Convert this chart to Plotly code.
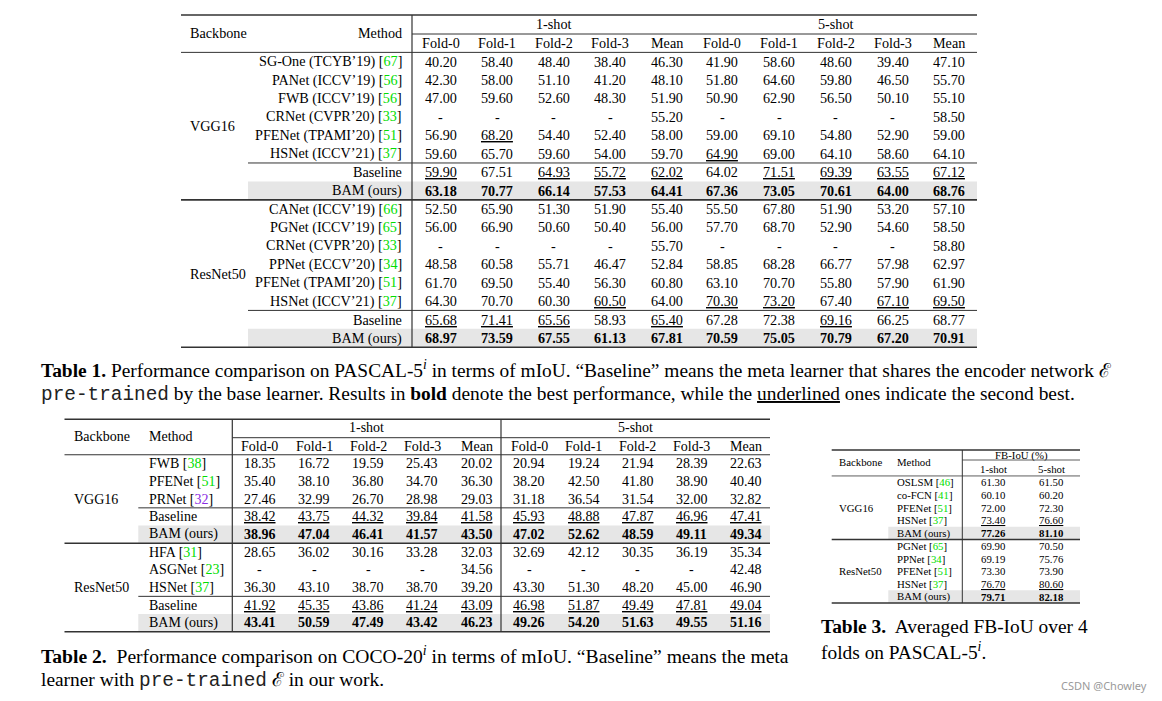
import plotly.graph_objects as go

FONT = "Liberation Serif"
MONO = "Liberation Mono"
GREEN = "#00dd00"
PURPLE = "#8a2be2"
RULE = "#333333"
GRAY = "#e6e6e6"

# ---------------- Table 1 data (PASCAL-5i, mIoU) ----------------
t1_groups = ["VGG16", "ResNet50"]
t1_vgg_methods = ["SG-One (TCYB’19)", "PANet (ICCV’19)", "FWB (ICCV’19)", "CRNet (CVPR’20)",
                  "PFENet (TPAMI’20)", "HSNet (ICCV’21)", "Baseline", "BAM (ours)"]
t1_vgg_refs = ["67", "56", "56", "33", "51", "37", None, None]
t1_vgg_1shot = [
    [40.20, 58.40, 48.40, 38.40, 46.30],
    [42.30, 58.00, 51.10, 41.20, 48.10],
    [47.00, 59.60, 52.60, 48.30, 51.90],
    [None, None, None, None, 55.20],
    [56.90, 68.20, 54.40, 52.40, 58.00],
    [59.60, 65.70, 59.60, 54.00, 59.70],
    [59.90, 67.51, 64.93, 55.72, 62.02],
    [63.18, 70.77, 66.14, 57.53, 64.41],
]
t1_vgg_5shot = [
    [41.90, 58.60, 48.60, 39.40, 47.10],
    [51.80, 64.60, 59.80, 46.50, 55.70],
    [50.90, 62.90, 56.50, 50.10, 55.10],
    [None, None, None, None, 58.50],
    [59.00, 69.10, 54.80, 52.90, 59.00],
    [64.90, 69.00, 64.10, 58.60, 64.10],
    [64.02, 71.51, 69.39, 63.55, 67.12],
    [67.36, 73.05, 70.61, 64.00, 68.76],
]
t1_res_methods = ["CANet (ICCV’19)", "PGNet (ICCV’19)", "CRNet (CVPR’20)", "PPNet (ECCV’20)",
                  "PFENet (TPAMI’20)", "HSNet (ICCV’21)", "Baseline", "BAM (ours)"]
t1_res_refs = ["66", "65", "33", "34", "51", "37", None, None]
t1_res_1shot = [
    [52.50, 65.90, 51.30, 51.90, 55.40],
    [56.00, 66.90, 50.60, 50.40, 56.00],
    [None, None, None, None, 55.70],
    [48.58, 60.58, 55.71, 46.47, 52.84],
    [61.70, 69.50, 55.40, 56.30, 60.80],
    [64.30, 70.70, 60.30, 60.50, 64.00],
    [65.68, 71.41, 65.56, 58.93, 65.40],
    [68.97, 73.59, 67.55, 61.13, 67.81],
]
t1_res_5shot = [
    [55.50, 67.80, 51.90, 53.20, 57.10],
    [57.70, 68.70, 52.90, 54.60, 58.50],
    [None, None, None, None, 58.80],
    [58.85, 68.28, 66.77, 57.98, 62.97],
    [63.10, 70.70, 55.80, 57.90, 61.90],
    [70.30, 73.20, 67.40, 67.10, 69.50],
    [67.28, 72.38, 69.16, 66.25, 68.77],
    [70.59, 75.05, 70.79, 67.20, 70.91],
]

# ---------------- Table 2 data (COCO-20i, mIoU) ----------------
t2_vgg_methods = ["FWB", "PFENet", "PRNet", "Baseline", "BAM (ours)"]
t2_vgg_refs = ["38", "51", "32", None, None]
t2_vgg_1shot = [
    [18.35, 16.72, 19.59, 25.43, 20.02],
    [35.40, 38.10, 36.80, 34.70, 36.30],
    [27.46, 32.99, 26.70, 28.98, 29.03],
    [38.42, 43.75, 44.32, 39.84, 41.58],
    [38.96, 47.04, 46.41, 41.57, 43.50],
]
t2_vgg_5shot = [
    [20.94, 19.24, 21.94, 28.39, 22.63],
    [38.20, 42.50, 41.80, 38.90, 40.40],
    [31.18, 36.54, 31.54, 32.00, 32.82],
    [45.93, 48.88, 47.87, 46.96, 47.41],
    [47.02, 52.62, 48.59, 49.11, 49.34],
]
t2_res_methods = ["HFA", "ASGNet", "HSNet", "Baseline", "BAM (ours)"]
t2_res_refs = ["31", "23", "37", None, None]
t2_res_1shot = [
    [28.65, 36.02, 30.16, 33.28, 32.03],
    [None, None, None, None, 34.56],
    [36.30, 43.10, 38.70, 38.70, 39.20],
    [41.92, 45.35, 43.86, 41.24, 43.09],
    [43.41, 50.59, 47.49, 43.42, 46.23],
]
t2_res_5shot = [
    [32.69, 42.12, 30.35, 36.19, 35.34],
    [None, None, None, None, 42.48],
    [43.30, 51.30, 48.20, 45.00, 46.90],
    [46.98, 51.87, 49.49, 47.81, 49.04],
    [49.26, 54.20, 51.63, 49.55, 51.16],
]

# ---------------- Table 3 data (FB-IoU) ----------------
t3_vgg_methods = ["OSLSM", "co-FCN", "PFENet", "HSNet", "BAM (ours)"]
t3_vgg_refs = ["46", "41", "51", "37", None]
t3_vgg_vals = [[61.30, 61.50], [60.10, 60.20], [72.00, 72.30], [73.40, 76.60], [77.26, 81.10]]
t3_res_methods = ["PGNet", "PPNet", "PFENet", "HSNet", "BAM (ours)"]
t3_res_refs = ["65", "34", "51", "37", None]
t3_res_vals = [[69.90, 70.50], [69.19, 75.76], [73.30, 73.90], [76.70, 80.60], [79.71, 82.18]]

fold_labels = ["Fold-0", "Fold-1", "Fold-2", "Fold-3", "Mean"]
shot_labels = ["1-shot", "5-shot"]

ann = []
shapes = []


def text(x, y, s, size, xanchor="center", family=FONT, color="black"):
    ann.append(dict(x=x, y=y, xref="x", yref="y", text=s, showarrow=False,
                    xanchor=xanchor, yanchor="middle", borderpad=0,
                    font=dict(family=family, size=size, color=color)))


def hline(x0, x1, y, w=1.0):
    shapes.append(dict(type="line", xref="x", yref="y", x0=x0, x1=x1, y0=y, y1=y,
                       line=dict(color=RULE, width=w), layer="above"))


def vline(x, y0, y1, w=1.0):
    shapes.append(dict(type="line", xref="x", yref="y", x0=x, x1=x, y0=y0, y1=y1,
                       line=dict(color=RULE, width=w), layer="above"))


def fill(x0, x1, y0, y1):
    shapes.append(dict(type="rect", xref="x", yref="y", x0=x0, x1=x1, y0=y0, y1=y1,
                       line=dict(width=0), fillcolor=GRAY, layer="below"))


def rank_marks(block):
    """Per-cell style: 'b' best, 'u' second best within the block column."""
    nrow, ncol = len(block), len(block[0])
    marks = [[None] * ncol for _ in range(nrow)]
    for c in range(ncol):
        vals = sorted({block[r][c] for r in range(nrow) if block[r][c] is not None}, reverse=True)
        for r in range(nrow):
            v = block[r][c]
            if v is None:
                continue
            if v == vals[0]:
                marks[r][c] = "b"
            elif len(vals) > 1 and v == vals[1]:
                marks[r][c] = "u"
    return marks


def fmt(v, m):
    if v is None:
        return "-"
    s = f"{v:.2f}"
    if m == "b":
        return f"<b>{s}</b>"
    if m == "u":
        return f"<u>{s}</u>"
    return s


def method_label(name, ref, color=GREEN):
    if ref is None:
        return name
    c = PURPLE if ref == "32" else color
    return f"{name} [<span style='color:{c}'>{ref}</span>]"


def mono(s):
    return f"<span style='font-family:{MONO};color:#222'>{s}</span>"


# ================= TABLE 1 =================
T1 = dict(left=181, right=977, vx=412, top=15, shot_y=24, shot_line=34, sub_y=43.2,
          row0=61.6, step=18.43, fs=14.2, meth_right=403, bb_left=189, mid_x=248)
c1 = [440.6 + 56.5 * k for k in range(5)]
c5 = [722.4 + 56.7 * k for k in range(5)]
t1_blocks = [(t1_vgg_methods, t1_vgg_refs, t1_vgg_1shot, t1_vgg_5shot),
             (t1_res_methods, t1_res_refs, t1_res_1shot, t1_res_5shot)]

ry = lambda i: T1["row0"] + T1["step"] * i
fs = T1["fs"]
text(T1["bb_left"], 32.7, "Backbone", fs, "left")
text(T1["meth_right"], 32.7, "Method", fs, "right")
text((T1["vx"] + 695) / 2, T1["shot_y"], shot_labels[0], fs)
text((695 + T1["right"]) / 2, T1["shot_y"], shot_labels[1], fs)
for k in range(5):
    text(c1[k], T1["sub_y"], fold_labels[k], fs)
    text(c5[k], T1["sub_y"], fold_labels[k], fs)

row = 0
for g, (meths, refs, one, five) in enumerate(t1_blocks):
    n = len(meths)
    m1, m5 = rank_marks(one), rank_marks(five)
    text(T1["bb_left"], (ry(row) + ry(row + n - 1)) / 2, t1_groups[g], fs, "left")
    for i in range(n):
        y = ry(row + i)
        text(T1["meth_right"], y, method_label(meths[i], refs[i]), fs, "right")
        for k in range(5):
            text(c1[k], y, fmt(one[i][k], m1[i][k]), fs)
            text(c5[k], y, fmt(five[i][k], m5[i][k]), fs)
    fill(T1["mid_x"], T1["right"], ry(row + n - 1) - T1["step"] / 2, ry(row + n - 1) + T1["step"] / 2)
    hline(T1["mid_x"], T1["right"], ry(row + n - 2.5), 1.0)
    row += n
    hline(T1["left"], T1["right"], ry(row - 0.5), 1.6)

hline(T1["left"], T1["right"], T1["top"], 1.6)
hline(T1["vx"], T1["right"], T1["shot_line"], 1.0)
hline(T1["left"], T1["right"], ry(-0.5), 1.0)
vline(T1["vx"], T1["top"], ry(row - 0.5), 1.2)

# captions table 1
CAP = 19.4
text(40, 369, "<b>Table 1.</b> Performance comparison on PASCAL-5<sup><i>i</i></sup> in terms of mIoU. "
     "“Baseline” means the meta learner that shares the encoder network ℰ", CAP, "left")
text(40, 394, f"{mono('pre-trained')} by the base learner. Results in "
     "<b>bold</b> denote the best performance, while the <u>underlined</u> ones indicate the second best.",
     CAP, "left")

# ================= TABLE 2 =================
T2 = dict(left=64.5, right=770, vx1=232.3, vx2=501, top=419.3, shot_y=427.7, shot_line=437.7,
          sub_y=446, row0=463.6, step=17.7, fs=14.0, bb_left=73, meth_left=147.7, mid_x=138.3)
d1 = [259.8 + 54.2 * k for k in range(5)]
d5 = [529.3 + 54.2 * k for k in range(5)]
t2_blocks = [(t2_vgg_methods, t2_vgg_refs, t2_vgg_1shot, t2_vgg_5shot),
             (t2_res_methods, t2_res_refs, t2_res_1shot, t2_res_5shot)]
ry2 = lambda i: T2["row0"] + T2["step"] * i
fs = T2["fs"]
text(T2["bb_left"], 436.7, "Backbone", fs, "left")
text(T2["meth_left"], 436.7, "Method", fs, "left")
text((T2["vx1"] + T2["vx2"]) / 2, T2["shot_y"], shot_labels[0], fs)
text((T2["vx2"] + T2["right"]) / 2, T2["shot_y"], shot_labels[1], fs)
for k in range(5):
    text(d1[k], T2["sub_y"], fold_labels[k], fs)
    text(d5[k], T2["sub_y"], fold_labels[k], fs)
row = 0
for g, (meths, refs, one, five) in enumerate(t2_blocks):
    n = len(meths)
    m1, m5 = rank_marks(one), rank_marks(five)
    text(T2["bb_left"], (ry2(row) + ry2(row + n - 1)) / 2, t1_groups[g], fs, "left")
    for i in range(n):
        y = ry2(row + i)
        text(T2["meth_left"], y, method_label(meths[i], refs[i]), fs, "left")
        for k in range(5):
            text(d1[k], y, fmt(one[i][k], m1[i][k]), fs)
            text(d5[k], y, fmt(five[i][k], m5[i][k]), fs)
    fill(T2["mid_x"], T2["right"], ry2(row + n - 1) - T2["step"] / 2, ry2(row + n - 1) + T2["step"] / 2)
    hline(T2["mid_x"], T2["right"], ry2(row + n - 2.5), 1.0)
    row += n
    hline(T2["left"], T2["right"], ry2(row - 0.5), 1.6)
hline(T2["left"], T2["right"], T2["top"], 1.6)
hline(T2["vx1"], T2["right"], T2["shot_line"], 1.0)
hline(T2["left"], T2["right"], ry2(-0.5), 1.0)
vline(T2["vx1"], T2["top"], ry2(row - 0.5), 1.2)
vline(T2["vx2"], T2["top"], ry2(row - 0.5), 1.2)

CAP2 = 19.6
text(40, 655, "<b>Table 2.</b>  Performance comparison on COCO-20<sup><i>i</i></sup> in terms of mIoU. "
     "“Baseline” means the meta", CAP2, "left")
text(40, 680, f"learner with {mono('pre-trained')} ℰ in our work.", CAP, "left")

# ================= TABLE 3 =================
T3 = dict(left=831.7, right=1080, vx=962.3, top=450, head_y=455.7, head_line=460, sub_y=469,
          row0=482.3, step=12.71, fs=10.8, bb_left=837.7, meth_left=896, mid_x=888.3)
e = [993.3, 1051]
t3_blocks = [(t3_vgg_methods, t3_vgg_refs, t3_vgg_vals), (t3_res_methods, t3_res_refs, t3_res_vals)]
ry3 = lambda i: T3["row0"] + T3["step"] * i
fs = T3["fs"]
text(T3["bb_left"], 461.7, "Backbone", fs, "left")
text(T3["meth_left"], 461.7, "Method", fs, "left")
text((T3["vx"] + T3["right"]) / 2, T3["head_y"], "FB-IoU (%)", fs)
for k in range(2):
    text(e[k], T3["sub_y"], shot_labels[k], fs)
row = 0
for g, (meths, refs, vals) in enumerate(t3_blocks):
    n = len(meths)
    mk = rank_marks(vals)
    text(T3["bb_left"], (ry3(row) + ry3(row + n - 1)) / 2, t1_groups[g], fs, "left")
    for i in range(n):
        y = ry3(row + i)
        text(T3["meth_left"], y, method_label(meths[i], refs[i]), fs, "left")
        for k in range(2):
            text(e[k], y, fmt(vals[i][k], mk[i][k]), fs)
    fill(T3["mid_x"], T3["right"], ry3(row + n - 1) - T3["step"] / 2, ry3(row + n - 1) + T3["step"] / 2)
    row += n
    hline(T3["left"], T3["right"], ry3(row - 0.5), 1.4)
hline(T3["left"], T3["right"], T3["top"], 1.4)
hline(T3["vx"], T3["right"], T3["head_line"], 0.8)
hline(T3["left"], T3["right"], ry3(-0.5), 0.8)
vline(T3["vx"], T3["top"], ry3(row - 0.5), 1.0)

text(820, 626.5, "<b>Table 3.</b>  Averaged FB-IoU over 4", CAP, "left")
text(820, 651, "folds on PASCAL-5<sup><i>i</i></sup>.", CAP, "left")

# watermark
text(1148, 685, "CSDN @Chowley", 11, "right", family="Noto Sans", color="#9a9a9a")

# The page body has an 8px default margin, so the figure is 8px smaller
# and its axes start at 8 to keep 1 unit = 1 screen pixel.
OFF = 8
fig = go.Figure(go.Scatter(x=[], y=[], mode="markers", showlegend=False))
fig.update_layout(width=1162 - OFF, height=701 - OFF, margin=dict(l=0, r=0, t=0, b=0),
                  paper_bgcolor="white", plot_bgcolor="white",
                  annotations=ann, shapes=shapes, showlegend=False)
fig.update_xaxes(range=[OFF, 1162], visible=False, fixedrange=True)
fig.update_yaxes(range=[701, OFF], visible=False, fixedrange=True)
fig.write_html("out.html")
